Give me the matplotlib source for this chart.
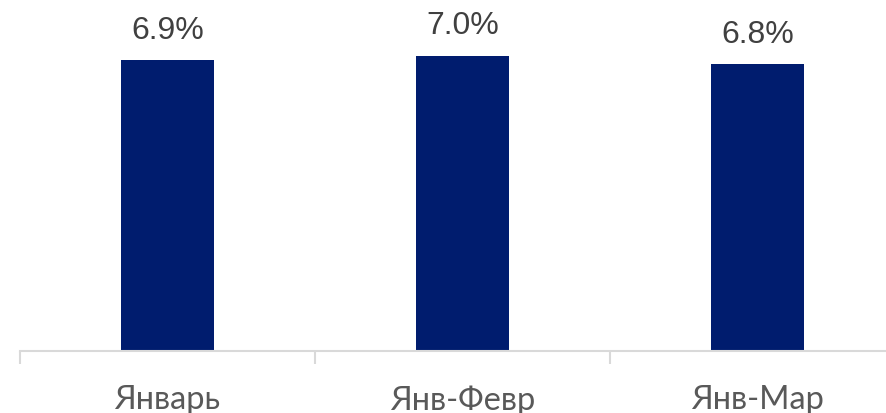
import matplotlib
matplotlib.use("Agg")
import matplotlib.pyplot as plt

categories = ["Январь", "Янв-Февр", "Янв-Мар"]
values = [6.9, 7.0, 6.8]
labels = ["6.9%", "7.0%", "6.8%"]

W, H = 886, 414
fig = plt.figure(figsize=(W / 100, H / 100), dpi=100)
left = 20 / W
width = 3 * 295 / W
bottom = (H - 352) / H
ax = fig.add_axes([left, bottom, width, 352 / H])

x = list(range(len(categories)))
ax.bar(x, values, width=0.315, color="#001C6E", zorder=2)
ax.set_xlim(-0.5, len(categories) - 0.5)
ax.set_ylim(0, 352 / 42.2)

for xi, v, lab in zip(x, values, labels):
    ax.annotate(lab, (xi, v), xytext=(0, 11), textcoords="offset points",
                ha="center", va="bottom", fontsize=23, color="#404040",
                family="Liberation Sans")

for s in ["top", "right", "left"]:
    ax.spines[s].set_visible(False)
ax.spines["bottom"].set_color("#D9D9D9")
ax.spines["bottom"].set_linewidth(1.5)
ax.set_yticks([])
ax.set_xticks([-0.5, 0.5, 1.5, 2.5], minor=True)
ax.tick_params(axis="x", which="minor", length=9, width=1.5, color="#D9D9D9")
ax.set_xticks(x)
ax.set_xticklabels(categories, fontsize=23.5, color="#595959", family="Lato")
ax.tick_params(axis="x", which="major", length=0, pad=24)

fig.savefig("out.png", dpi=100)
